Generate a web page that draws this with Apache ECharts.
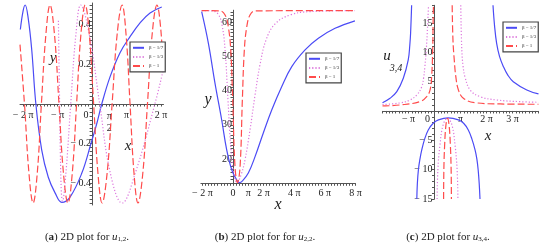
<!DOCTYPE html>
<html>
<head>
<meta charset="UTF-8">
<title>2D plots</title>
<script src="https://cdn.jsdelivr.net/npm/echarts@6/dist/echarts.min.js"></script>
<style>html,body{margin:0;padding:0;background:#fff;}</style>
</head>
<body>
<div id="main" style="width:550px;height:252px"></div>
<script type="text/javascript">
// legend names
var betaNames = ['β = 1/7', 'β = 1/3', 'β = 1'];

// (a) u1,2 ; x in units of pi
var blueA = [[-2.08,0.376],[-2.0,0.47],[-1.94,0.5],[-1.85,0.43],[-1.75,0.274],[-1.63,0],[-1.46,-0.233],[-1.27,-0.37],[-1.07,-0.45],
  [-0.88,-0.497],[-0.64,-0.47],[-0.30,-0.35],[-0.03,-0.198],[0.14,-0.096],[0.28,0],[0.52,0.137],[0.81,0.259],[1.10,0.34],
  [1.39,0.41],[1.68,0.46],[2.02,0.49]];
var pinkA = [[-0.977,0.42],[-0.95,0.1],[-0.92,-0.25],[-0.89,-0.45],[-0.86,-0.49],[-0.76,-0.35],[-0.62,0],[-0.47,0.35],[-0.33,0.5],
  [-0.08,0.35],[0.22,0],[0.53,-0.35],[0.87,-0.5],[1.25,-0.35],[1.82,0],[2.06,0.17]];
var redA = [[-2.09,0.3],[-1.96,0],[-1.83,-0.35],[-1.71,-0.5],[-1.59,-0.35],[-1.47,0],[-1.34,0.35],[-1.22,0.5],[-1.09,0.35],
  [-0.96,0],[-0.83,-0.35],[-0.70,-0.5],[-0.575,-0.35],[-0.45,0],[-0.325,0.35],[-0.20,0.5],[-0.08,0.35],[0.045,0],
  [0.17,-0.35],[0.29,-0.5],[0.435,-0.35],[0.58,0],[0.725,0.35],[0.87,0.5],[0.985,0.35],[1.10,0],[1.215,-0.35],
  [1.33,-0.5],[1.47,-0.35],[1.605,0],[1.74,0.35],[1.88,0.5],[1.99,0.38],[2.06,0.17]];
var labelsAX = [-2, -1, 0, 0.5, 1, 2];
var labelsAY = [0.4, 0.2, -0.2, -0.4];

// (b) u2,2
var blueB = [[-2.05,63.07],[-1.61,53.8],[-1.18,42.2],[-0.74,31.4],[-0.41,22.6],[-0.08,16.8],[0.24,13.9],[0.42,13.1],
  [0.62,13.6],[1.0,15.9],[1.44,20.7],[1.98,27.6],[2.53,34.3],[3.18,41.1],[3.84,47.0],[4.71,51.9],[5.58,55.3],[6.67,58.2],[7.97,60.4]];
var pinkB = [[-2.05,63.4],[-1.37,63.3],[-0.98,62.4],[-0.72,59.2],[-0.52,51.9],[-0.33,37.3],[-0.13,22.6],[0.07,15.3],
  [0.26,13.1],[0.52,15.3],[0.78,19.7],[1.11,28.5],[1.44,38.7],[1.76,47.5],[2.16,54.8],[2.75,59.5],[3.73,62.1],
  [5.03,63.1],[7.97,63.4]];
var redB = [[-2.05,63.4],[-0.85,63.3],[-0.52,62.1],[-0.31,58.7],[-0.15,51.9],[-0.02,37.3],[0.13,17.7],[0.29,13.1],
  [0.46,17.7],[0.61,37.3],[0.74,51.9],[0.90,58.7],[1.11,62.1],[1.44,63.3],[7.97,63.4]];
var labelsBX = [-2, 0, 1, 2, 4, 6, 8];
var labelsBY = [20, 30, 40, 50, 60];

// (c) u3,4 (null breaks the line at the poles)
var blueC = [[-2.0,1.41],[-1.71,2.16],[-1.45,3.29],[-1.2,5.57],[-1.01,8.69],[-0.95,11.2],[-0.92,13.2],[-0.88,18],
  [-0.8,null],
  [-0.68,-15],[-0.66,-12.4],[-0.62,-10.05],[-0.56,-8.2],[-0.49,-6.64],[-0.38,-4.8],[-0.24,-3.24],[-0.05,-2.1],[0.15,-1.53],
  [0.53,-1.19],[0.92,-1.53],[1.12,-2.1],[1.30,-3.24],[1.44,-4.8],[1.56,-6.64],[1.63,-8.2],[1.68,-10.05],[1.72,-12.4],[1.75,-15],
  [2.0,null],
  [2.25,18],[2.31,14.5],[2.39,11.5],[2.5,9.3],[2.65,7.55],[2.82,6.1],[3.03,4.99],[3.55,3.58],[4.0,2.9]];
var pinkC = [[-2.0,1.1],[-1.33,1.36],[-0.94,1.87],[-0.68,2.73],[-0.49,4.14],[-0.42,5.6],[-0.37,7.55],[-0.32,10.2],[-0.28,13.2],[-0.23,18],
  [0,null],
  [0.1,-15],[0.13,-10],[0.21,-5.8],[0.33,-2.4],[0.5,-1.24],[0.67,-2.4],[0.79,-5.8],[0.87,-10],[0.9,-15],
  [0.95,null],
  [1.01,18],[1.05,10.4],[1.1,7.6],[1.17,5.84],[1.37,3.58],[1.75,2.44],[2.39,1.87],[3.29,1.58],[4.0,1.48]];
var redC = [[-2.0,0.85],[-1.33,1.02],[-0.56,1.58],[-0.3,2.44],[-0.17,3.58],[-0.11,5.84],[-0.07,10.4],[-0.05,16.1],[-0.04,18],
  [0.2,null],
  [0.35,-15],[0.36,-10],[0.39,-5.8],[0.44,-2.4],[0.5,-1.24],[0.56,-2.4],[0.61,-5.8],[0.64,-10],[0.65,-15],
  [0.665,null],
  [0.68,18],[0.71,12.1],[0.76,8.7],[0.82,5.84],[0.92,3.58],[1.11,2.16],[1.56,1.41],[2.52,1.19],[4.0,1.14]];
var labelsCX = [-1, 0, 1, 2, 3];
var labelsCY = [15, 10, 5, -5, -10, -15];

var FONT = '"Liberation Serif", "DejaVu Serif", serif';
var AXIS_COLOR = '#555';
var BLUE = '#4b4bf5', PINK = '#dd77dd', RED = '#ff4b4b';

// grid boxes (pixels) and axis ranges
var gridBox = [
    {left: 20, top: 3, width: 143.5, height: 202},
    {left: 200.9, top: 10.2, width: 154.5, height: 173.1},
    {left: 382.5, top: 5.3, width: 156, height: 193.7}
];
var xRange = [[-2.09, 2.07], [-2.1, 8], [-2, 4]];
var yRange = [[-0.51, 0.51], [12.9, 63.5], [-15, 18]];

// little helper for the dense maple-style ticks
function steps(a, b, s) {
    var out = [];
    var n = Math.round((b - a) / s);
    for (var i = 0; i <= n; i++) out.push(Math.round((a + i * s) * 1000) / 1000);
    return out;
}

function piLabel(v) {
    if (v === 0) return '{z|0}';
    if (v === 0.5) return '{n|π}\n{n|2}';
    var a = Math.abs(v);
    return (v < 0 ? '− ' : '') + (a === 1 ? '' : a + ' ') + 'π';
}
function numLabel(v) {
    return v < 0 ? '− ' + Math.abs(v) : '' + v;
}

// move the axes to the zero line (labels too) with an offset
function xOffset(gi) {
    var r = yRange[gi];
    if (r[0] > 0) return 0;
    return -gridBox[gi].height * (0 - r[0]) / (r[1] - r[0]);
}
function yOffset(gi) {
    var r = xRange[gi];
    if (r[0] > 0) return 0;
    return -gridBox[gi].width * (0 - r[0]) / (r[1] - r[0]);
}

function xAxisCfg(gi, labels, ticks, margin, zPad) {
    return {
        type: 'value', gridIndex: gi, min: xRange[gi][0], max: xRange[gi][1],
        position: 'bottom', offset: xOffset(gi),
        axisLine: {onZero: false, lineStyle: {color: AXIS_COLOR, width: 1}},
        axisTick: {show: true, length: 2.5, customValues: ticks, lineStyle: {color: AXIS_COLOR}},
        splitLine: {show: false},
        axisLabel: {
            customValues: labels, formatter: piLabel, margin: margin,
            color: '#222', fontFamily: FONT, fontSize: 10, hideOverlap: false,
            rich: {
                z: {fontFamily: FONT, fontSize: 10, color: '#222', padding: [0, zPad, 0, 0]},
                n: {fontFamily: FONT, fontSize: 10, color: '#222', lineHeight: 12}
            }
        }
    };
}
function yAxisCfg(gi, labels, ticks, margin) {
    return {
        type: 'value', gridIndex: gi, min: yRange[gi][0], max: yRange[gi][1],
        position: 'left', offset: yOffset(gi),
        axisLine: {onZero: false, lineStyle: {color: AXIS_COLOR, width: 1}},
        axisTick: {show: true, length: 2.5, customValues: ticks, lineStyle: {color: AXIS_COLOR}},
        splitLine: {show: false},
        axisLabel: {customValues: labels, formatter: numLabel, margin: margin, hideOverlap: false,
            color: '#222', fontFamily: FONT, fontSize: 10}
    };
}

function lineSeries(name, gi, data, color, type) {
    return {
        name: name, type: 'line', xAxisIndex: gi, yAxisIndex: gi, data: data,
        showSymbol: false, symbol: 'none', smooth: 0.4,
        connectNulls: false, clip: true,
        lineStyle: {color: color, width: 1.2, type: type},
        itemStyle: {color: color}
    };
}

function legendCfg(left, top) {
    return {
        data: betaNames, orient: 'vertical', left: left, top: top,
        padding: [3, 2], itemGap: 3.5, itemWidth: 11, itemHeight: 7,
        backgroundColor: '#fff', borderColor: '#444', borderWidth: 1.2,
        itemStyle: {opacity: 0, borderWidth: 0},
        textStyle: {fontFamily: FONT, fontSize: 5, color: '#333'},
        selectedMode: false
    };
}

function txt(x, y, s, size, italic) {
    return {
        type: 'text', x: x, y: y,
        style: {text: s, fontFamily: FONT, fontSize: size, fontStyle: italic ? 'italic' : 'normal',
            fill: '#222', align: 'center', verticalAlign: 'middle'}
    };
}
function caption(x, letter, sub, extra) {
    return {
        type: 'text', x: x, y: 237,
        style: {
            text: '({b|' + letter + '}) 2D plot for ' + extra + '{u|u}{s|' + sub + '}.',
            fontFamily: FONT, fontSize: 11, fill: '#222', align: 'center', verticalAlign: 'middle',
            rich: {
                b: {fontFamily: FONT, fontSize: 11, fontWeight: 'bold', fill: '#222'},
                u: {fontFamily: FONT, fontSize: 11, fontStyle: 'italic', fill: '#222'},
                s: {fontFamily: FONT, fontSize: 7, fill: '#222', verticalAlign: 'bottom', padding: [4, 0, 0, 0]}
            }
        }
    };
}

var myChart = echarts.init(document.getElementById('main'), null, {renderer: 'canvas'});

var grids = gridBox.map(function (g) {
    return {left: g.left, top: g.top, width: g.width, height: g.height, containLabel: false, outerBoundsMode: 'none'};
});

var option = {
    animation: false,
    backgroundColor: '#fff',
    grid: grids,
    xAxis: [
        xAxisCfg(0, labelsAX, steps(-2, 2, 0.1), 6, 12),
        xAxisCfg(1, labelsBX, steps(-2, 8, 0.2), 5, 0),
        xAxisCfg(2, labelsCX, steps(-2, 4, 0.125), 3, 14)
    ],
    yAxis: [
        yAxisCfg(0, labelsAY, steps(-0.5, 0.5, 0.02), 1),
        yAxisCfg(1, labelsBY, steps(13, 63, 1), 1),
        yAxisCfg(2, labelsCY, steps(-15, 18, 1), 2)
    ],
    legend: [legendCfg(130, 42), legendCfg(306, 53), legendCfg(503, 22)],
    series: [
        lineSeries(betaNames[0], 0, blueA, BLUE, 'solid'),
        lineSeries(betaNames[1], 0, pinkA, PINK, [1.2, 2]),
        lineSeries(betaNames[2], 0, redA, RED, [7, 3]),
        lineSeries(betaNames[0], 1, blueB, BLUE, 'solid'),
        lineSeries(betaNames[1], 1, pinkB, PINK, [1.2, 2]),
        lineSeries(betaNames[2], 1, redB, RED, [7, 3]),
        lineSeries(betaNames[0], 2, blueC, BLUE, 'solid'),
        lineSeries(betaNames[1], 2, pinkC, PINK, [1.2, 2]),
        lineSeries(betaNames[2], 2, redC, RED, [7, 3])
    ],
    graphic: [
        txt(53, 58, 'y', 15, true),
        txt(128, 146, 'x', 15, true),
        txt(208, 100, 'y', 16, true),
        txt(278, 205, 'x', 16, true),
        txt(387, 56, 'u', 15, true),
        txt(396, 68, '3,4', 10, true),
        txt(488, 136, 'x', 15, true),
        caption(87, 'a', '1,2', ''),
        caption(265, 'b', '2,2', 'for '),
        caption(448, 'c', '3,4', '')
    ]
};
myChart.setOption(option);
</script>
</body>
</html>
